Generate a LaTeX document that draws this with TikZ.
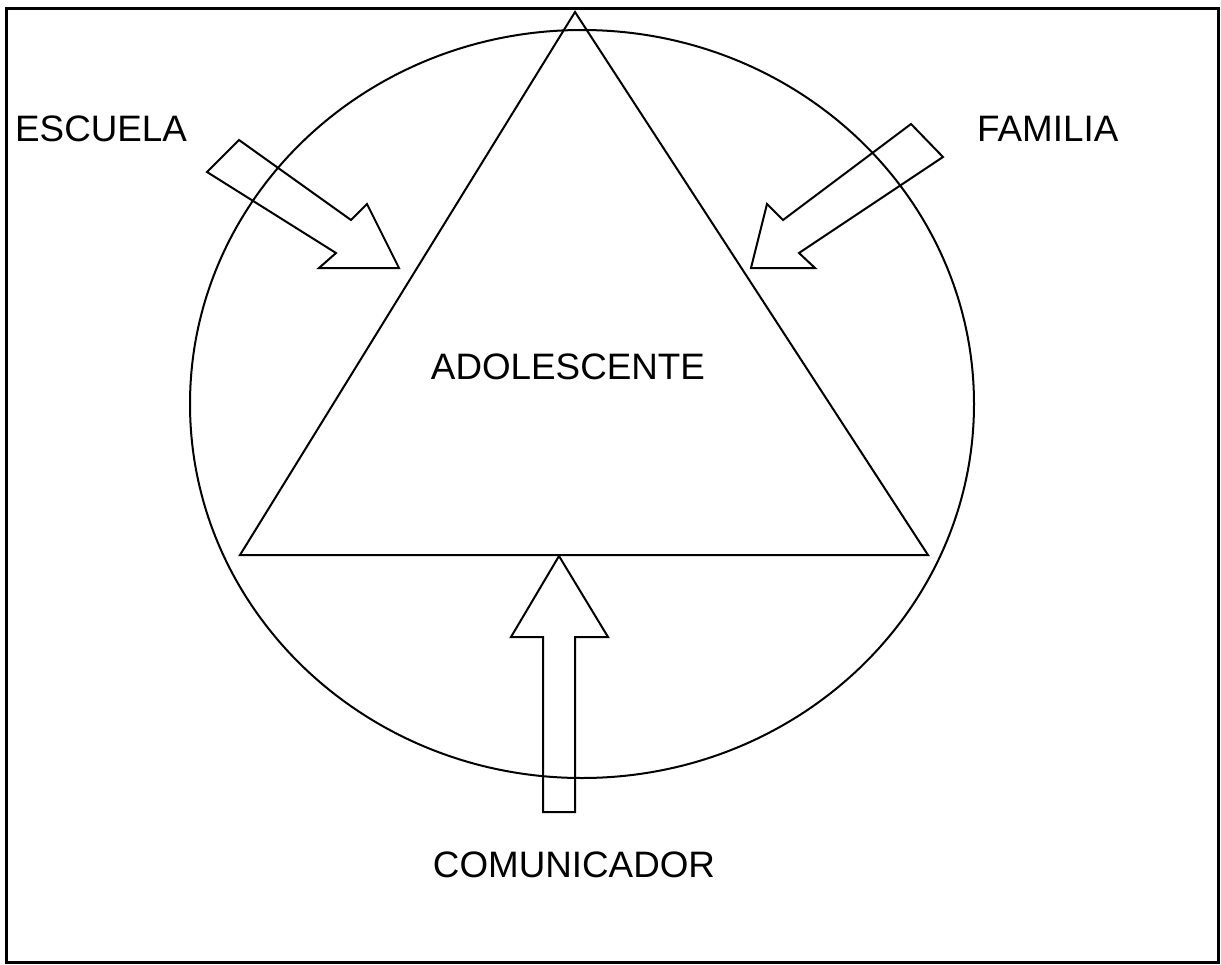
\documentclass[tikz,border=0pt]{standalone}
\usepackage{fontspec}
\setmainfont{Liberation Sans}
\usepackage{tikz}

\tikzset{
  lbl/.style={inner sep=0pt, font=\fontsize{36.8}{40}\selectfont},
  shp/.style={line width=2pt, line join=miter}
}

\begin{document}
\begin{tikzpicture}[x=1pt,y=-1pt]
\useasboundingbox (0,0) rectangle (1221,964);
% frame
\draw[line width=3pt] (6,8) rectangle (1218,962);
% circle and triangle
\draw[shp] (582,404) ellipse [x radius=392, y radius=374];
\draw[shp] (575,12) -- (928,555) -- (240,555) -- cycle;
% block arrows
\draw[shp] (239,140) -- (351,220) -- (367,204) -- (399,268) -- (319,268) -- (336,253) -- (207,172) -- cycle;
\draw[shp] (911,124) -- (783,220) -- (767,204) -- (751,268) -- (815,268) -- (799,253) -- (943,157) -- cycle;
\draw[shp] (559,556) -- (608,637) -- (575,637) -- (575,812) -- (543,812) -- (543,637) -- (511,637) -- cycle;
% labels
\node[lbl, anchor=base west] (escuela) at (15,141) {ESCUELA};
\node[lbl, anchor=base west] (familia) at (977,141) {FAMILIA};
\node[lbl, anchor=base] (adol) at (568,379) {ADOLESCENTE};
\node[lbl, anchor=base] (comun) at (574,877) {COMUNICADOR};
\end{tikzpicture}
\end{document}
